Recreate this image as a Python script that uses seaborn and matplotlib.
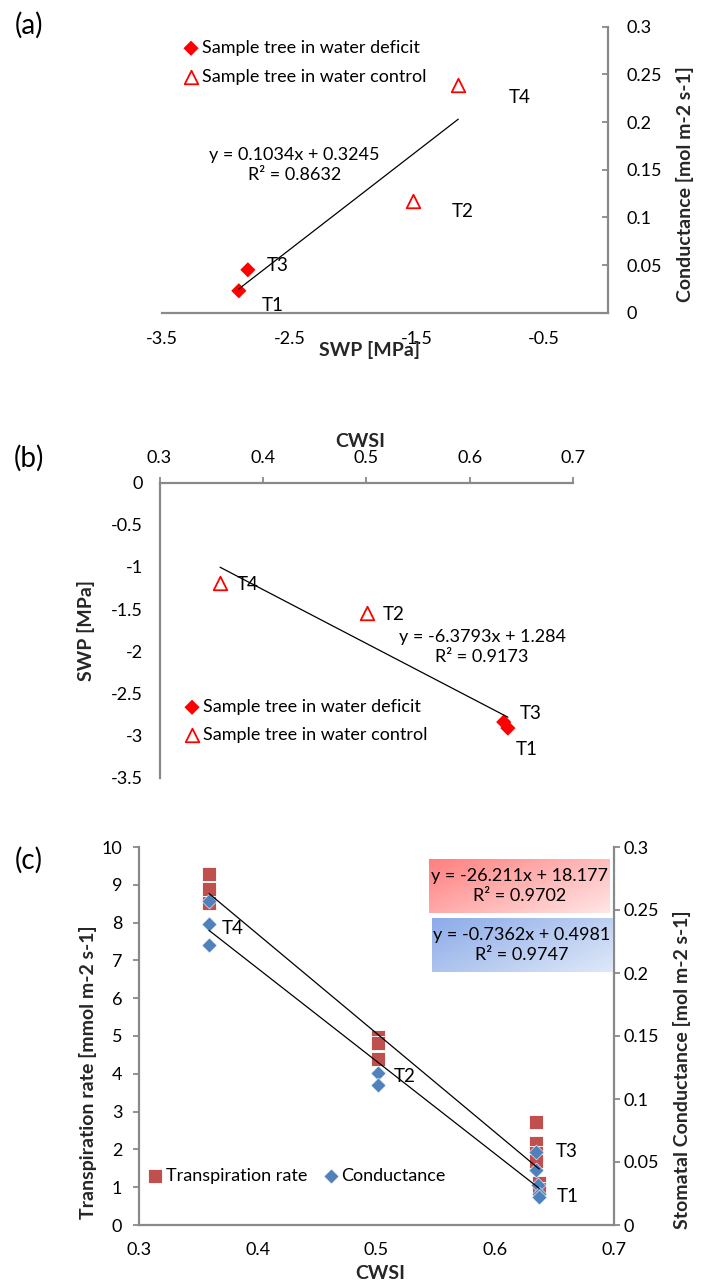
"""
Three-panel figure: conductance, SWP and transpiration versus stress indices.
"""
import numpy as np
import matplotlib
matplotlib.use("Agg")
import matplotlib.pyplot as plt
import seaborn as sns

# panel (a): SWP [MPa] vs conductance [mol m-2 s-1]
a_deficit_swp = [-2.897, -2.826]
a_deficit_cond = [0.023, 0.045]
a_control_swp = [-1.528, -1.175]
a_control_cond = [0.117, 0.239]
a_fit = (0.1034, 0.3245, 0.8632)
a_tree_names = ["T1", "T3", "T2", "T4"]
a_tree_xy = [(-2.63, 0.008), (-2.59, 0.050), (-1.14, 0.106), (-0.69, 0.226)]

# panel (b): CWSI vs SWP [MPa]
b_deficit_cwsi = [0.633, 0.637]
b_deficit_swp = [-2.837, -2.909]
b_control_cwsi = [0.3586, 0.501]
b_control_swp = [-1.192, -1.548]
b_fit = (-6.3793, 1.284, 0.9173)
b_tree_names = ["T4", "T2", "T3", "T1"]
b_tree_xy = [(0.385, -1.204), (0.527, -1.56), (0.659, -2.735), (0.655, -3.16)]

# panel (c): CWSI vs transpiration rate and stomatal conductance
c_trans_cwsi = [0.359, 0.359, 0.359, 0.501, 0.501, 0.501,
                0.634, 0.634, 0.634, 0.634, 0.637, 0.637]
c_trans_rate = [9.29, 8.88, 8.53, 4.98, 4.82, 4.40,
                2.73, 2.17, 1.90, 1.69, 1.10, 0.95]
c_cond_cwsi = [0.359, 0.359, 0.359, 0.501, 0.501,
               0.634, 0.634, 0.636, 0.637, 0.637]
c_cond_value = [0.257, 0.239, 0.222, 0.121, 0.111,
                0.058, 0.044, 0.032, 0.025, 0.022]
c_trans_fit = (-26.211, 18.177, 0.9702)
c_cond_fit = (-0.7362, 0.4981, 0.9747)
c_tree_names = ["T4", "T2", "T3", "T1"]
c_tree_xy = [(0.379, 7.85), (0.524, 3.94), (0.660, 1.94), (0.661, 0.75)]

W, H = 704, 1286
GREY = "#898989"
RED = "#ff0000"
SQ_RED = "#c0504d"
DI_BLUE = "#4f81bd"

sns.set_theme(style="white", rc={"axes.facecolor": "white"})
plt.rcParams["font.family"] = ["Lato", "DejaVu Sans"]
plt.rcParams["text.color"] = "black"
plt.rcParams["xtick.color"] = "black"
plt.rcParams["ytick.color"] = "black"

FS = 13
LAB = 14
PANEL = 20


def px_rect(left, top, right, bottom):
    return [left / W, 1 - bottom / H, (right - left) / W, (bottom - top) / H]


def style_axes(ax, spines):
    for name, sp in ax.spines.items():
        sp.set_visible(name in spines)
        sp.set_color(GREY)
        sp.set_linewidth(1.6)
    ax.tick_params(colors="black", labelsize=FS, width=1.3, length=4,
                   color=GREY)
    ax.grid(False)


def fit_line(ax, xs, fit, **kw):
    x = np.array([min(xs), max(xs)])
    ax.plot(x, fit[0] * x + fit[1], color="black", lw=0.9, zorder=4, **kw)


def eq_text(fit):
    sign = "+" if fit[1] >= 0 else "-"
    return f"y = {fit[0]:g}x {sign} {abs(fit[1]):g}\nR² = {fit[2]:.4f}"


def gradient_box(rect, c0, c1, text):
    bx = fig.add_axes(rect)
    gx, gy = np.meshgrid(np.linspace(0, 1, 60), np.linspace(0, 1, 30))
    t = (gx * 0.6 + gy * 0.4)[..., None]
    img = np.array(c0) * (1 - t) + np.array(c1) * t
    bx.imshow(img, aspect="auto", extent=[0, 1, 0, 1], origin="upper")
    bx.set_axis_off()
    bx.text(0.5, 0.5, text, ha="center", va="center", fontsize=FS,
            linespacing=1.3, transform=bx.transAxes)


fig = plt.figure(figsize=(W / 100, H / 100), dpi=100)

# ---------------- (a)
ax = fig.add_axes(px_rect(162, 26.7, 608, 312.7))
sns.scatterplot(x=a_deficit_swp, y=a_deficit_cond, marker="D", s=60,
                color=RED, edgecolor="none", ax=ax,
                label="Sample tree in water deficit", zorder=3)
sns.scatterplot(x=a_control_swp, y=a_control_cond, marker="^", s=95,
                color="white", edgecolor=RED, linewidth=1.3, ax=ax,
                label="Sample tree in water control", zorder=3)
fit_line(ax, a_deficit_swp + a_control_swp, a_fit)
ax.set_xlim(-3.5, 0)
ax.set_ylim(0, 0.3)
ax.set_xticks([-3.5, -2.5, -1.5, -0.5])
ax.set_xticklabels([f"{v:g}" for v in [-3.5, -2.5, -1.5, -0.5]])
yt = np.arange(0, 0.301, 0.05)
ax.set_yticks(yt)
ax.set_yticklabels([f"{v:g}" for v in np.round(yt, 2)])
ax.yaxis.tick_right()
ax.yaxis.set_label_position("right")
style_axes(ax, ["bottom", "right"])
ax.tick_params(axis="x", direction="out", pad=9)
ax.tick_params(axis="y", direction="in", pad=13)
ax.set_xlabel("SWP [MPa]", fontsize=LAB, fontweight="bold")
ax.set_ylabel("Conductance [mol m-2 s-1]", fontsize=LAB, fontweight="bold")
ax.xaxis.set_label_coords(0.466, -0.10)
ax.yaxis.set_label_coords(1.152, 0.45)
for name, (tx, ty) in zip(a_tree_names, a_tree_xy):
    ax.text(tx, ty, name, ha="center", va="center", fontsize=FS + 0.5)
ax.text(-2.46, 0.155, eq_text(a_fit), ha="center", va="center",
        fontsize=FS, linespacing=1.3)
ax.legend(loc="upper left", bbox_to_anchor=(182 / W, 1 - 40 / H),
          bbox_transform=fig.transFigure, frameon=False, fontsize=FS,
          handlelength=1.0, handletextpad=0.1, labelspacing=0.7,
          borderpad=0, borderaxespad=0)
fig.text(29 / W, 1 - 25 / H, "(a)", fontsize=PANEL, ha="center", va="center")

# ---------------- (b)
ax = fig.add_axes(px_rect(159.5, 482.5, 573, 778))
sns.scatterplot(x=b_deficit_cwsi, y=b_deficit_swp, marker="D", s=60,
                color=RED, edgecolor="none", ax=ax,
                label="Sample tree in water deficit", zorder=3)
sns.scatterplot(x=b_control_cwsi, y=b_control_swp, marker="^", s=95,
                color="white", edgecolor=RED, linewidth=1.3, ax=ax,
                label="Sample tree in water control", zorder=3)
fit_line(ax, b_deficit_cwsi + b_control_cwsi, b_fit)
ax.set_xlim(0.3, 0.7)
ax.set_ylim(-3.5, 0)
xt = np.arange(0.3, 0.701, 0.1)
ax.set_xticks(xt)
ax.set_xticklabels([f"{v:g}" for v in np.round(xt, 1)])
yt = np.arange(-3.5, 0.01, 0.5)
ax.set_yticks(yt)
ax.set_yticklabels([f"{v:g}" for v in yt])
ax.xaxis.tick_top()
ax.xaxis.set_label_position("top")
style_axes(ax, ["top", "left"])
ax.tick_params(axis="both", direction="out", pad=8)
ax.set_xlabel("CWSI", fontsize=LAB, fontweight="bold")
ax.set_ylabel("SWP [MPa]", fontsize=LAB, fontweight="bold")
ax.xaxis.set_label_coords(0.485, 1.12)
ax.yaxis.set_label_coords(-0.155, 0.50)
for name, (tx, ty) in zip(b_tree_names, b_tree_xy):
    ax.text(tx, ty, name, ha="center", va="center", fontsize=FS + 0.5)
ax.text(0.612, -1.95, eq_text(b_fit), ha="center", va="center",
        fontsize=FS, linespacing=1.3)
ax.legend(loc="upper left", bbox_to_anchor=(183 / W, 1 - 699 / H),
          bbox_transform=fig.transFigure, frameon=False, fontsize=FS,
          handlelength=1.0, handletextpad=0.1, labelspacing=0.65,
          borderpad=0, borderaxespad=0)
fig.text(29 / W, 1 - 458 / H, "(b)", fontsize=PANEL, ha="center", va="center")

# ---------------- (c)
ax = fig.add_axes(px_rect(139, 847, 614, 1225))
ax2 = ax.twinx()
sns.scatterplot(x=c_trans_cwsi, y=c_trans_rate, marker="s", s=108,
                color=SQ_RED, edgecolor="white", linewidth=0.6, ax=ax,
                label="Transpiration rate", zorder=3)
sns.scatterplot(x=c_cond_cwsi, y=c_cond_value, marker="D", s=58,
                color=DI_BLUE, edgecolor="white", linewidth=0.4, ax=ax2,
                label="Conductance", zorder=3)
fit_line(ax2, c_cond_cwsi, c_cond_fit)
xs = np.array([min(c_trans_cwsi), max(c_trans_cwsi)])
ax2.plot(xs, c_trans_fit[0] * xs + c_trans_fit[1], color="black", lw=0.9,
         zorder=4, transform=ax.transData)
ax.set_xlim(0.3, 0.7)
ax.set_ylim(0, 10)
ax2.set_ylim(0, 0.3)
xt = np.arange(0.3, 0.701, 0.1)
ax.set_xticks(xt)
ax.set_xticklabels([f"{v:g}" for v in np.round(xt, 1)])
ax.set_yticks(range(0, 11))
yt = np.arange(0, 0.301, 0.05)
ax2.set_yticks(yt)
ax2.set_yticklabels([f"{v:g}" for v in np.round(yt, 2)])
style_axes(ax, ["bottom", "left"])
style_axes(ax2, ["right"])
ax.tick_params(axis="both", direction="out", pad=8)
ax2.tick_params(axis="y", direction="out", pad=3)
ax.set_xlabel("CWSI", fontsize=LAB, fontweight="bold")
ax.set_ylabel("Transpiration rate [mmol m-2 s-1]", fontsize=LAB,
              fontweight="bold")
ax2.set_ylabel("Stomatal Conductance [mol m-2 s-1]", fontsize=LAB,
               fontweight="bold")
ax.xaxis.set_label_coords(0.5086, -0.105)
ax.yaxis.set_label_coords(-0.088, 0.405)
ax2.yaxis.set_label_coords(1.125, 0.41)
for name, (tx, ty) in zip(c_tree_names, c_tree_xy):
    ax2.text(tx, ty, name, ha="center", va="center", fontsize=FS + 0.5,
             transform=ax.transData)
h1, l1 = ax.get_legend_handles_labels()
h2, l2 = ax2.get_legend_handles_labels()
if ax.get_legend():
    ax.get_legend().remove()
if ax2.get_legend():
    ax2.get_legend().remove()
ax2.legend(h1 + h2, l1 + l2, loc="upper left", ncol=2,
           bbox_to_anchor=(146 / W, 1 - 1168 / H),
           bbox_transform=fig.transFigure, frameon=False, fontsize=FS,
           handlelength=1.0, handletextpad=0.1, columnspacing=0.8,
           borderpad=0, borderaxespad=0)
gradient_box(px_rect(429, 859, 609.5, 912.7), (1.0, 0.50, 0.50),
             (1.0, 0.90, 0.90), eq_text(c_trans_fit))
gradient_box(px_rect(431.5, 917.7, 611.7, 971.7), (0.55, 0.67, 0.91),
             (0.87, 0.91, 0.97), eq_text(c_cond_fit))
fig.text(29 / W, 1 - 860 / H, "(c)", fontsize=PANEL, ha="center", va="center")

fig.savefig("out.png", dpi=100)
